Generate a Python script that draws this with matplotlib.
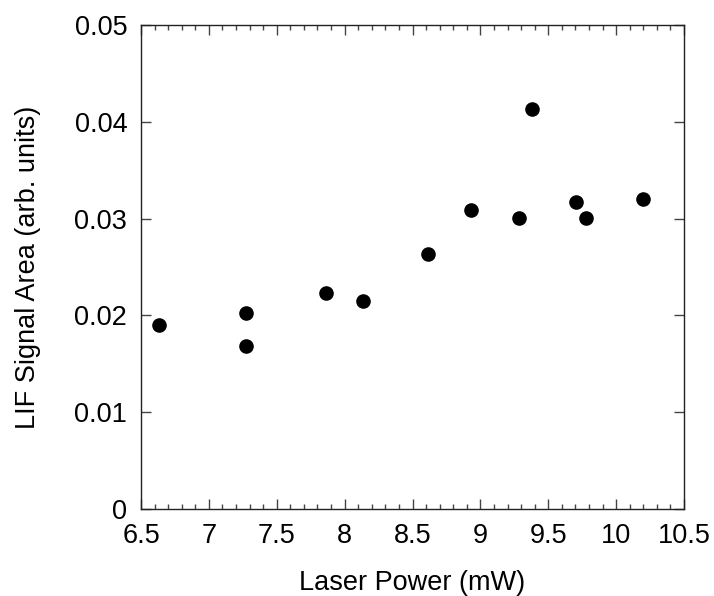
import numpy as np
import matplotlib.pyplot as plt
from matplotlib.ticker import MultipleLocator

plt.rcParams['font.family'] = ['Liberation Sans', 'DejaVu Sans']

# laser power (mW) and LIF signal area (arb. units)
power = [6.635, 7.271, 7.271, 7.861, 8.133, 8.614, 8.931, 9.282, 9.380, 9.707, 9.780, 10.200]
signal = [0.01898, 0.02022, 0.01681, 0.02235, 0.02152, 0.02634, 0.03092, 0.03009, 0.04135, 0.03168, 0.03006, 0.03202]

xticks = [6.5, 7, 7.5, 8, 8.5, 9, 9.5, 10, 10.5]
yticks = [0, 0.01, 0.02, 0.03, 0.04, 0.05]
ytick_labels = ['0', '0.01', '0.02', '0.03', '0.04', '0.05']

fig = plt.figure(figsize=(7.14, 5.96), dpi=100)
ax = fig.add_axes([0.1975, 0.146, 0.7605, 0.812])

ax.scatter(power, signal, s=90, color='black', zorder=3)

ax.set_xlim(6.5, 10.5)
ax.set_ylim(0, 0.05)
ax.set_xticks(xticks)
ax.set_xticklabels(['%g' % v for v in xticks], fontsize=19.5)
ax.xaxis.set_minor_locator(MultipleLocator(0.1))
ax.set_yticks(yticks)
ax.set_yticklabels(ytick_labels, fontsize=19.5)

ax.tick_params(which='both', direction='in', top=True, right=True, color='#444444')
ax.tick_params(axis='x', which='major', length=7, width=1, pad=10)
ax.tick_params(axis='y', which='major', length=7, width=1, pad=10)
ax.tick_params(which='minor', length=3.5, width=1)
for s in ax.spines.values():
    s.set_linewidth(1)
    s.set_color('#222222')

ax.set_xlabel('Laser Power (mW)', fontsize=19.5, labelpad=15)
ax.set_ylabel('LIF Signal Area (arb. units)', fontsize=19.5, labelpad=24)

fig.savefig('out.png', dpi=100)
